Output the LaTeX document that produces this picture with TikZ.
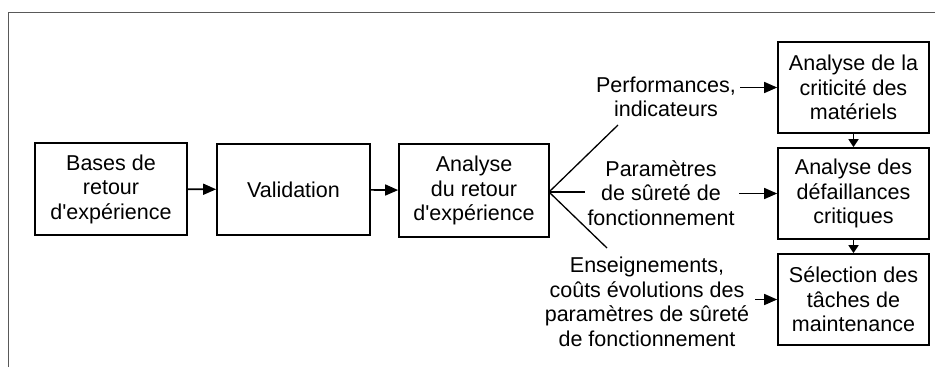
\documentclass[tikz,border=0pt]{standalone}
\usepackage{fontspec}
\setmainfont{Liberation Sans}
\usetikzlibrary{arrows.meta}
\begin{document}
\begin{tikzpicture}[x=1pt,y=-1pt,
  font=\fontsize{21.5}{24.5}\selectfont,
  blk/.style={draw,line width=1.7pt,rectangle,align=center,inner sep=0pt},
  lbl/.style={align=center,inner sep=0pt},
  arr/.style={line width=1.6pt,-{Triangle[length=13pt,width=11pt]}},
  varr/.style={line width=1.6pt,-{Triangle[length=8pt,width=10pt]}},
  fan/.style={line width=1.3pt}]
\useasboundingbox (0,0) rectangle (944,367);
\draw[line width=1pt,black!65] (8,367) -- (8,12) -- (935,12);
\node[blk,minimum width=152pt,minimum height=92pt] (b1) at (111,189) {Bases de\\retour\\d\textquotesingle expérience};
\node[blk,minimum width=153pt,minimum height=91pt] (b2) at (293.5,189.5) {Validation};
\node[blk,minimum width=150pt,minimum height=93pt] (b3) at (474,190.5) {Analyse\\du retour\\d\textquotesingle expérience};
\node[blk,minimum width=151pt,minimum height=91pt] (bA) at (853.5,87.5) {Analyse de la\\criticité des\\matériels};
\node[blk,minimum width=151pt,minimum height=91pt] (bB) at (853.5,193.5) {Analyse des\\défaillances\\critiques};
\node[blk,minimum width=151pt,minimum height=91pt] (bC) at (853.5,299.5) {Sélection des\\tâches de\\maintenance};
\node[lbl] (perf) at (666,97) {Performances,\\indicateurs};
\node[lbl] (param) at (661,193) {Paramètres\\de sûreté de\\fonctionnement};
\node[lbl] (ens) at (647,302) {Enseignements,\\coûts évolutions des\\paramètres de sûreté\\de fonctionnement};
\coordinate (f0) at (549,192);
\coordinate (f1) at (618,125);
\coordinate (f2) at (585,192);
\coordinate (f3) at (607,248);
\coordinate (pA) at (740,87.5);
\coordinate (pB) at (739,193.5);
\coordinate (pC) at (755,299.5);
\draw[arr] (b1) -- (b2);
\draw[arr] (b2) -- (b3);
\draw[fan] (f1) -- (f0) -- (f3);
\draw[fan] (f0) -- (f2);
\draw[arr] (pA) -- (bA.west);
\draw[arr] (pB) -- (bB.west);
\draw[arr] (pC) -- (bC.west);
\draw[varr] (bA) -- (bB);
\draw[varr] (bB) -- (bC);
\end{tikzpicture}
\end{document}
